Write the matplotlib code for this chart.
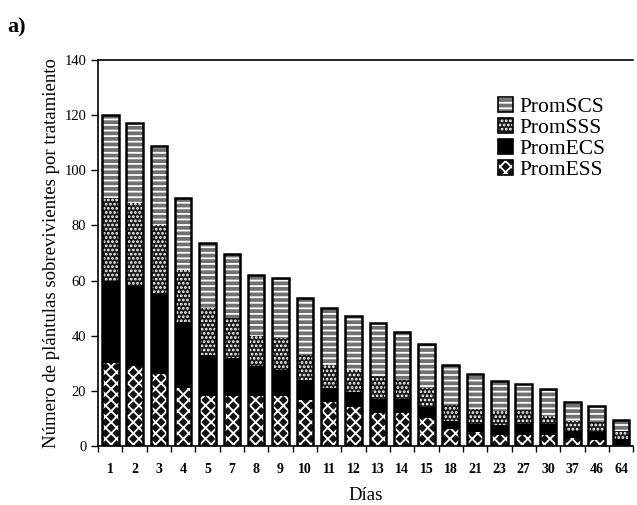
import matplotlib
matplotlib.use("Agg")
import matplotlib.pyplot as plt
from matplotlib.patches import Patch
import numpy as np

plt.rcParams['font.family'] = ['Liberation Serif', 'DejaVu Serif']
plt.rcParams['hatch.linewidth'] = 1.3

days = ['1', '2', '3', '4', '5', '7', '8', '9', '10', '11', '12',
        '13', '14', '15', '18', '21', '23', '27', '30', '37', '46', '64']

# promedios por tratamiento (apilados de abajo hacia arriba)
prom_ess = [30, 29, 26, 21, 18, 18, 18, 18, 16.5, 16, 14, 12, 12, 10, 6, 5, 4, 4, 4, 3, 2, 0.5]
prom_ecs = [30, 29, 29, 24, 15, 14, 11, 9.5, 7.5, 5, 5.5, 5, 5, 4, 3, 3, 3.5, 4, 4, 2.5, 3, 2]
prom_sss = [30, 30, 25, 19, 17, 14.5, 11, 11.5, 9, 8.5, 8, 8.5, 7, 7, 6, 5.5, 5, 5, 3, 3.5, 3.5, 3]
prom_scs = [30, 29, 29, 26, 23.5, 23, 22, 22, 20.5, 20.5, 19.5, 19, 17.5, 16, 14.5, 12.5, 11, 9.5, 9.5, 7, 6, 4]

series = [
    ('PromESS', prom_ess, '#111111', 'xxx'),
    ('PromECS', prom_ecs, '#000000', None),
    ('PromSSS', prom_sss, '#1a1a1a', '....'),
    ('PromSCS', prom_scs, '#707070', '---'),
]

fig = plt.figure(figsize=(6.37, 5.05), dpi=100)
ax = fig.add_axes([0.154, 0.117, 0.840, 0.764])

x = np.arange(len(days))
width = 0.68
bottom = np.zeros(len(days))
handles = {}
for name, vals, fc, hatch in series:
    vals = np.array(vals)
    ax.bar(x, vals, width, bottom=bottom, color=fc, hatch=hatch,
           edgecolor='white', linewidth=0)
    bottom += vals
    fill = Patch(facecolor=fc, hatch=hatch, edgecolor='white', linewidth=0)
    edge = Patch(facecolor='none', edgecolor='black', linewidth=1.2)
    handles[name] = (fill, edge)

# contorno de cada barra completa
ax.bar(x, bottom, width, fill=False, edgecolor='black', linewidth=1.8)

order = ['PromSCS', 'PromSSS', 'PromECS', 'PromESS']
ax.legend([handles[n] for n in order], order, loc='upper right',
          bbox_to_anchor=(0.985, 0.955), frameon=False, fontsize=15.5,
          handlelength=0.7, handleheight=0.7, handletextpad=0.3,
          labelspacing=0.05)

ax.set_xlim(-0.5, len(days) - 0.5)
ax.set_ylim(0, 140)
ax.set_yticks(range(0, 141, 20))
ax.set_xticks(x)
ax.set_xticklabels(days, fontsize=10, fontweight='bold')
ax.set_xticks(np.arange(-0.5, len(days), 1), minor=True)
ax.tick_params(axis='x', which='major', length=0, pad=12)
ax.tick_params(axis='x', which='minor', length=4, direction='out', width=1)
ax.tick_params(axis='y', length=5, direction='out', width=1, labelsize=10.5)

ax.spines['right'].set_visible(False)
for s in ['left', 'bottom', 'top']:
    ax.spines[s].set_linewidth(1.2)

ax.set_xlabel('Días', fontsize=13.5, labelpad=8)
ax.set_ylabel('Número de plántulas sobrevivientes por tratamiento', fontsize=13.5, labelpad=3)

fig.text(0.012, 0.935, 'a)', fontsize=16, fontweight='bold')

fig.savefig('out.png', dpi=100)
